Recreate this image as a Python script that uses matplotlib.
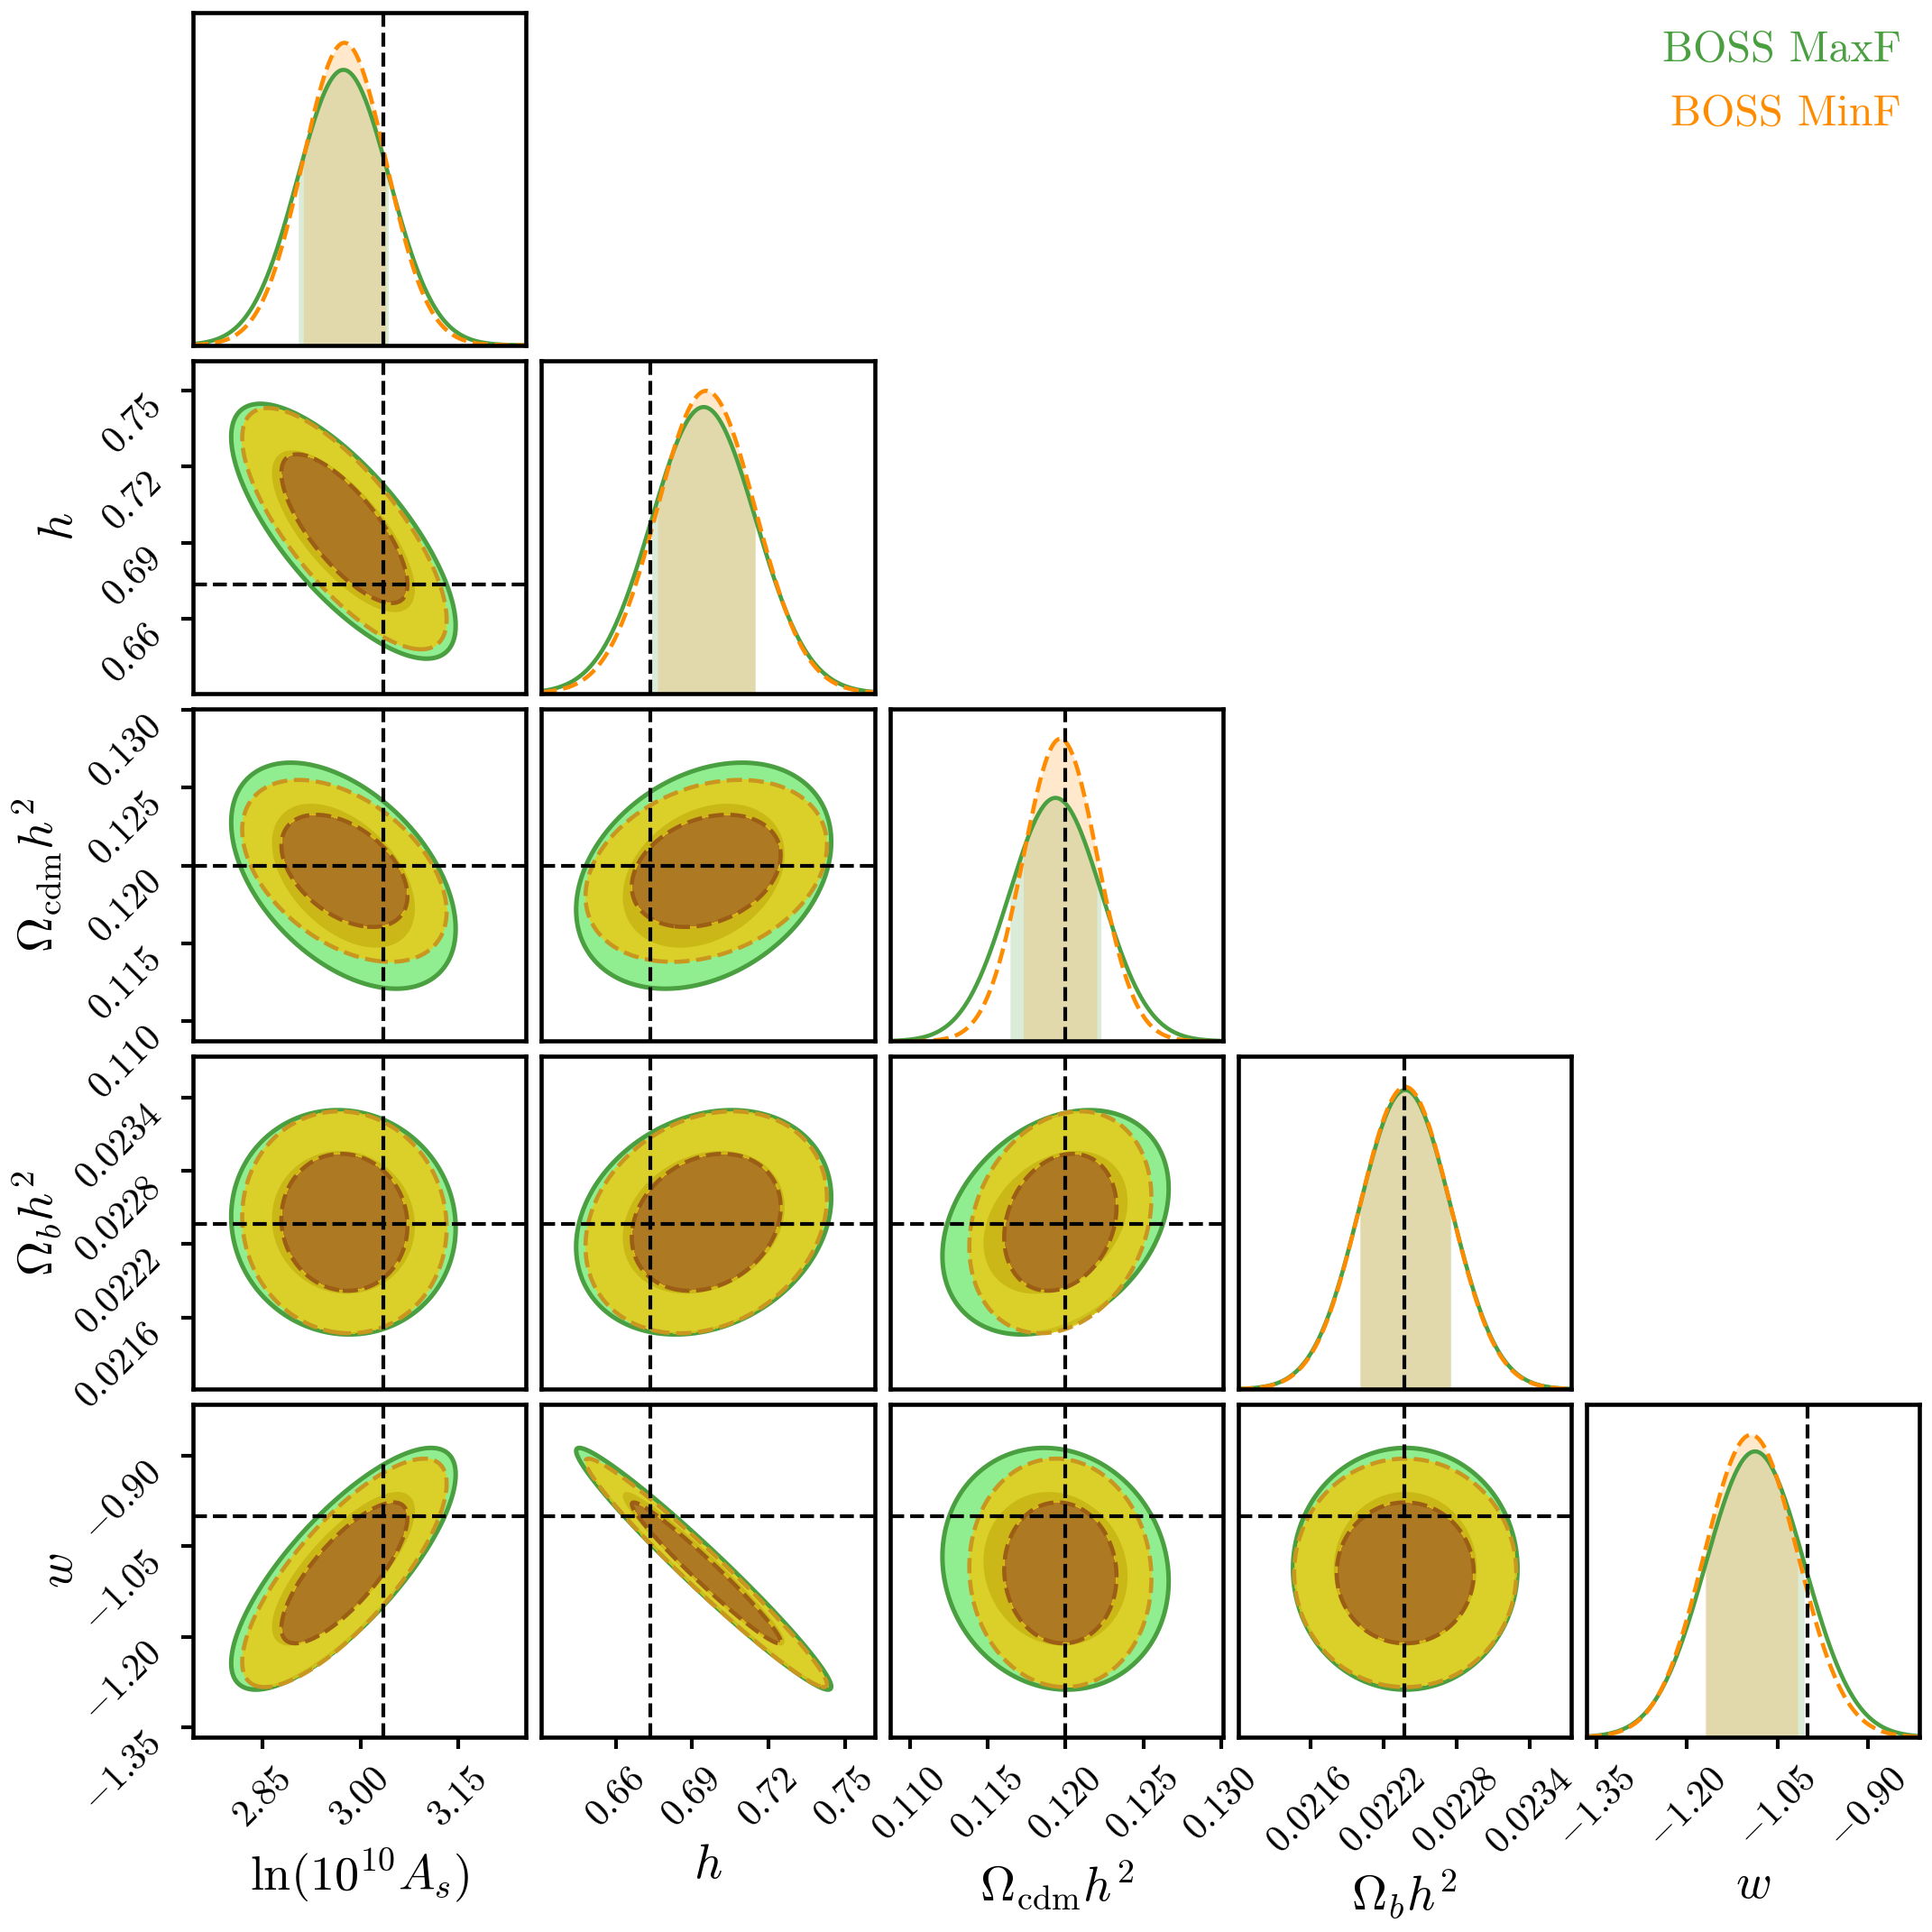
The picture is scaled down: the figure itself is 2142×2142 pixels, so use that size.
"""Corner plot: BOSS MaxF vs BOSS MinF posteriors (Gaussian summary of each chain)."""
import numpy as np
import matplotlib
matplotlib.use("Agg")
import matplotlib.pyplot as plt

plt.rcParams.update({
    "font.family": "serif",
    "font.serif": ["cmr10"],
    "mathtext.fontset": "cm",
    "axes.linewidth": 1.1,
    "xtick.major.width": 1.0,
    "ytick.major.width": 1.0,
    "xtick.major.size": 3.2,
    "ytick.major.size": 3.2,
})

# --- parameters -------------------------------------------------------------
LABELS = [r"$\ln(10^{10}A_s)$", r"$h$", r"$\Omega_{\rm cdm}h^2$", r"$\Omega_bh^2$", r"$w$"]
TRUTH = [3.036, 0.6736, 0.120, 0.02237, -1.0]
LIMITS = [(2.743, 3.255), (0.6307, 0.7617), (0.1087, 0.1301),
          (0.02101, 0.02374), (-1.367, -0.8145)]
TICKS = [[2.85, 3.00, 3.15],
         [0.66, 0.69, 0.72, 0.75],
         [0.110, 0.115, 0.120, 0.125, 0.130],
         [0.0216, 0.0222, 0.0228, 0.0234],
         [-1.35, -1.20, -1.05, -0.90]]
TICK_FMT = ["%.2f", "%.2f", "%.3f", "%.4f", "%.2f"]
XLABEL_Y = [-0.416, -0.386, -0.445, -0.47, -0.445]   # axes fraction, label centre
YLABEL_X = [None, -0.40, -0.47, -0.47, -0.40]

# --- chain summaries --------------------------------------------------------
PAIRS = [(0, 1), (0, 2), (0, 3), (0, 4), (1, 2), (1, 3), (1, 4), (2, 3), (2, 4), (3, 4)]
MAXF_MEAN = [2.974, 0.6945, 0.11935, 0.02238, -1.0872]
MAXF_STD = [0.0705, 0.0205, 0.00297, 0.000376, 0.082]
MAXF_RHO = [-0.74, -0.47, -0.05, 0.78, 0.30, 0.22, -0.975, 0.30, -0.10, 0.0]
MINF_MEAN = [2.9755, 0.6955, 0.11966, 0.02238, -1.094]
MINF_STD = [0.0642, 0.0194, 0.00239, 0.000372, 0.0775]
MINF_RHO = [-0.75, -0.45, -0.05, 0.78, 0.28, 0.22, -0.975, 0.22, -0.05, 0.0]

GREEN, ORANGE = "#4a9f40", "#ff8c00"
CHAINS = [
    dict(name="BOSS MaxF", mean=MAXF_MEAN, std=MAXF_STD, rho=MAXF_RHO, line=GREEN, ls="-",
         fill=["#46783a", "#90ee90"], falpha=1.0, clines=["#3c7a30", GREEN], lw=1.2),
    dict(name="BOSS MinF", mean=MINF_MEAN, std=MINF_STD, rho=MINF_RHO, line=ORANGE, ls="--",
         fill=["#c97a1e", "#efc811"], falpha=0.8, clines=["#9b5e14", "#c9961f"], lw=1.1),
]
CHI2 = [0.0, 2.279, 5.991]   # 68% / 95% of 2D mass
N = len(LABELS)


def tick_labels(i):
    return [r"$%s$" % (TICK_FMT[i] % t) for t in TICKS[i]]


fig = plt.figure(figsize=(7.14, 7.14), dpi=300)
gs = fig.add_gridspec(N, N, left=0.1, right=0.9935, bottom=0.1008, top=0.9935,
                      wspace=0.046, hspace=0.046)

for row in range(N):
    for col in range(N):
        if col > row:
            continue
        ax = fig.add_subplot(gs[row, col])
        xlo, xhi = LIMITS[col]
        xs = np.linspace(xlo, xhi, 400)
        if row == col:
            top = 0
            for ch in CHAINS:
                mu, sd = ch["mean"][col], ch["std"][col]
                pdf = np.exp(-0.5 * ((xs - mu) / sd) ** 2) / sd
                top = max(top, pdf.max())
                m = (xs >= mu - sd) & (xs <= mu + sd)
                ax.fill_between(xs[m], 0, pdf[m], color=ch["line"], alpha=0.2, lw=0)
                ax.plot(xs, pdf, color=ch["line"], ls=ch["ls"], lw=1.1)
            ax.set_ylim(0, 1.1 * top)
            ax.axvline(TRUTH[col], color="k", ls="--", lw=1.0, zorder=5)
            ax.set_yticks([])
        else:
            ylo, yhi = LIMITS[row]
            ys = np.linspace(ylo, yhi, 400)
            X, Y = np.meshgrid(xs, ys)
            k = PAIRS.index((col, row))
            for j, ch in enumerate(CHAINS):
                u = (X - ch["mean"][col]) / ch["std"][col]
                v = (Y - ch["mean"][row]) / ch["std"][row]
                r = ch["rho"][k]
                d2 = (u * u - 2 * r * u * v + v * v) / (1 - r * r)
                ax.contourf(X, Y, d2, levels=CHI2, colors=ch["fill"], alpha=ch["falpha"],
                            zorder=1 + 0.2 * j)
                ax.contour(X, Y, d2, levels=CHI2[1:], colors=ch["clines"],
                           linestyles=ch["ls"], linewidths=ch["lw"], zorder=1.1 + 0.2 * j)
            ax.axvline(TRUTH[col], color="k", ls="--", lw=1.0, zorder=5)
            ax.axhline(TRUTH[row], color="k", ls="--", lw=1.0, zorder=5)
            ax.set_ylim(ylo, yhi)
            if col == 0:
                ax.set_yticks(TICKS[row])
                ax.set_yticklabels(tick_labels(row), rotation=45, fontsize=10, va="top")
                ax.set_ylabel(LABELS[row], fontsize=13, va="center")
                ax.yaxis.set_label_coords(YLABEL_X[row], 0.5)
            else:
                ax.set_yticks([])
        ax.set_xlim(xlo, xhi)
        if row == N - 1:
            ax.set_xticks(TICKS[col])
            ax.set_xticklabels(tick_labels(col), rotation=45, fontsize=10)
            ax.set_xlabel(LABELS[col], fontsize=13, va="center")
            ax.xaxis.set_label_coords(0.5, XLABEL_Y[col])
        else:
            ax.set_xticks([])

fig.text(0.984, 0.974, CHAINS[0]["name"], color=GREEN, ha="right", va="center", fontsize=11.5)
fig.text(0.984, 0.941, CHAINS[1]["name"], color=ORANGE, ha="right", va="center", fontsize=11.5)

fig.savefig("out.png", dpi=300)
